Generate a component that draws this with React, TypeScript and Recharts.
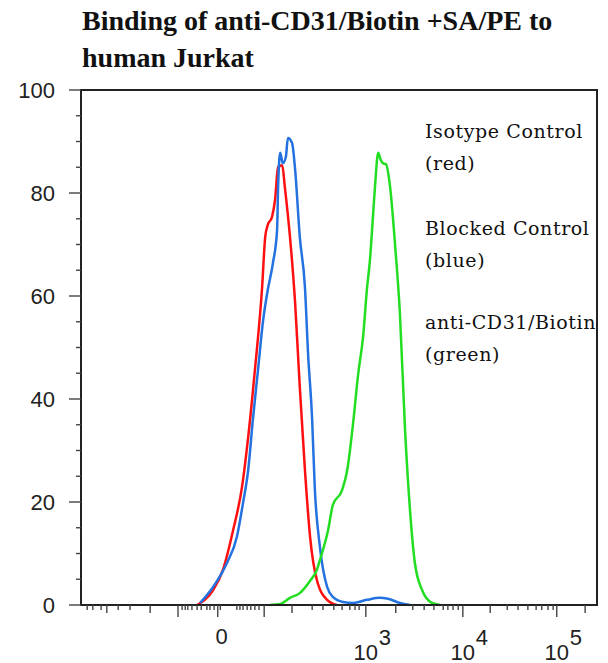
import React from 'react';
import { LineChart, Line, XAxis, YAxis, ReferenceArea } from 'recharts';

// x is the display channel of the biexponential scale (0..1000), y is % of max
const isotypeRed = [
  { ch: 225, pct: 0 }, { ch: 256, pct: 2.9 }, { ch: 275, pct: 6.8 }, { ch: 295, pct: 14.6 },
  { ch: 312, pct: 22.9 }, { ch: 324, pct: 32.6 }, { ch: 337, pct: 45.6 }, { ch: 351, pct: 61.7 },
  { ch: 357, pct: 71.5 }, { ch: 362, pct: 73.8 }, { ch: 370, pct: 75.3 }, { ch: 376, pct: 78.6 },
  { ch: 382, pct: 85.0 }, { ch: 390, pct: 85.4 }, { ch: 395, pct: 81.2 }, { ch: 405, pct: 71.5 },
  { ch: 415, pct: 58.6 }, { ch: 424, pct: 42.3 }, { ch: 434, pct: 26.2 }, { ch: 444, pct: 13.2 },
  { ch: 457, pct: 4.9 }, { ch: 477, pct: 1.0 }, { ch: 496, pct: 0 },
];

const blockedBlue = [
  { ch: 231, pct: 0.4 }, { ch: 256, pct: 3.5 }, { ch: 283, pct: 8.2 }, { ch: 302, pct: 13.2 },
  { ch: 314, pct: 19.8 }, { ch: 324, pct: 26.2 }, { ch: 333, pct: 35.9 }, { ch: 343, pct: 45.6 },
  { ch: 353, pct: 55.3 }, { ch: 362, pct: 61.2 }, { ch: 372, pct: 66.4 }, { ch: 380, pct: 72.8 },
  { ch: 382, pct: 81.2 }, { ch: 386, pct: 87.8 }, { ch: 391, pct: 85.8 }, { ch: 397, pct: 87.0 },
  { ch: 401, pct: 90.7 }, { ch: 409, pct: 89.7 }, { ch: 415, pct: 84.5 }, { ch: 424, pct: 71.5 },
  { ch: 434, pct: 61.7 }, { ch: 440, pct: 48.9 }, { ch: 448, pct: 35.9 }, { ch: 453, pct: 22.9 },
  { ch: 463, pct: 11.3 }, { ch: 477, pct: 3.5 }, { ch: 488, pct: 1.6 }, { ch: 508, pct: 0.6 },
  { ch: 527, pct: 0.4 }, { ch: 554, pct: 1.0 }, { ch: 579, pct: 1.4 }, { ch: 595, pct: 1.2 },
  { ch: 618, pct: 0.4 }, { ch: 638, pct: 0 },
];

const cd31Green = [
  { ch: 366, pct: 0 }, { ch: 386, pct: 0.2 }, { ch: 405, pct: 1.4 }, { ch: 424, pct: 2.3 },
  { ch: 444, pct: 4.7 }, { ch: 457, pct: 6.8 }, { ch: 463, pct: 8.7 }, { ch: 479, pct: 14.6 },
  { ch: 488, pct: 19.4 }, { ch: 506, pct: 22.3 }, { ch: 516, pct: 26.2 }, { ch: 527, pct: 35.0 },
  { ch: 537, pct: 44.7 }, { ch: 547, pct: 52.4 }, { ch: 554, pct: 61.2 }, { ch: 560, pct: 67.0 },
  { ch: 566, pct: 75.7 }, { ch: 570, pct: 81.6 }, { ch: 576, pct: 87.8 }, { ch: 581, pct: 86.4 },
  { ch: 585, pct: 85.8 }, { ch: 591, pct: 85.6 }, { ch: 599, pct: 81.2 }, { ch: 609, pct: 69.5 },
  { ch: 618, pct: 56.7 }, { ch: 628, pct: 34.0 }, { ch: 638, pct: 17.9 }, { ch: 647, pct: 8.2 },
  { ch: 661, pct: 2.9 }, { ch: 680, pct: 0.4 }, { ch: 696, pct: 0 },
];

const xLongTicks = [188, 265, 355, 552, 740, 922];
const xMediumTicks = [50, 134, 409, 610, 793, 977];
const xShortTicks = [
  12, 23, 39, 72, 95, 196, 202, 207, 215, 225, 233, 244, 250, 258, 270, 302, 308, 314, 322, 329,
  337, 345, 448, 469, 490, 506, 521, 531, 539, 643, 665, 684, 702, 711, 721, 731, 826, 847, 866,
  882, 893, 905, 915,
];
const xLabels = [
  { at: 265, base: '0', exp: '' },
  { at: 552, base: '10', exp: '3' },
  { at: 740, base: '10', exp: '4' },
  { at: 922, base: '10', exp: '5' },
];

const yTicks = [0, 5, 10, 15, 20, 25, 30, 35, 40, 45, 50, 55, 60, 65, 70, 75, 80, 85, 90, 95, 100];
const yMajor = [0, 20, 40, 60, 80, 100];

const legendLines = [
  ['Isotype Control', '(red)'],
  ['Blocked Control', '(blue)'],
  ['anti-CD31/Biotin', '(green)'],
];

const W = 600;
const H = 655;
const AXIS_W = 73;
const X_AXIS_H = 58;
const PLOT_LEFT = AXIS_W;
const PLOT_BOTTOM = H - X_AXIS_H;
const sans = '"Liberation Sans", Arial, sans-serif';

const allXTicks = [...xLongTicks, ...xMediumTicks, ...xShortTicks].sort((a, b) => a - b);

function XTick(props: any) {
  const { x, payload } = props;
  const v = payload.value;
  const len = xLongTicks.includes(v) ? 12 : xMediumTicks.includes(v) ? 8 : 5;
  const lab = xLabels.find((l) => l.at === v);
  return (
    <g>
      <line x1={x} x2={x} y1={PLOT_BOTTOM} y2={PLOT_BOTTOM + len} stroke="#444" strokeWidth={1.4} />
      {lab && lab.exp === '' && (
        <text x={x + 4} y={PLOT_BOTTOM + 31} textAnchor="middle" dominantBaseline="central"
          fontFamily={sans} fontSize={22} fill="#222">{lab.base}</text>
      )}
      {lab && lab.exp !== '' && (
        <g fontFamily={sans} fontSize={22} fill="#222">
          <text x={x} y={PLOT_BOTTOM + 47} textAnchor="middle" dominantBaseline="central">{lab.base}</text>
          <text x={x + 13} y={PLOT_BOTTOM + 32} textAnchor="start" dominantBaseline="central">{lab.exp}</text>
        </g>
      )}
    </g>
  );
}

function YTick(props: any) {
  const { y, payload } = props;
  const v = payload.value;
  const major = yMajor.includes(v);
  return (
    <g>
      <line x1={PLOT_LEFT - (major ? 12 : 5)} x2={PLOT_LEFT} y1={y} y2={y} stroke="#444" strokeWidth={1.4} />
      {major && (
        <text x={PLOT_LEFT - 26} y={y} textAnchor="end" dominantBaseline="central"
          fontFamily={sans} fontSize={22} fill="#222">{v}</text>
      )}
    </g>
  );
}

export default function App() {
  return (
    <div style={{ position: 'relative', width: W, height: H }}>
      <LineChart width={W} height={H} margin={{ top: 82, right: 11, bottom: 0, left: 0 }}>
        <XAxis type="number" dataKey="ch" domain={[0, 1000]} ticks={allXTicks} interval={0}
          allowDataOverflow height={X_AXIS_H} tickLine={false} tick={<XTick />}
          axisLine={{ stroke: '#222', strokeWidth: 2 }} />
        <YAxis type="number" dataKey="pct" domain={[0, 100]} ticks={yTicks} interval={0}
          width={AXIS_W} tickLine={false} tick={<YTick />}
          axisLine={{ stroke: '#222', strokeWidth: 2 }} />
        <ReferenceArea x1={0} x2={1000} y1={0} y2={100} fillOpacity={0} stroke="#222" strokeWidth={2} />
        <Line data={isotypeRed} dataKey="pct" type="monotone" stroke="#ff1010" strokeWidth={2.5}
          dot={false} isAnimationActive={false} />
        <Line data={blockedBlue} dataKey="pct" type="monotone" stroke="#2372e0" strokeWidth={2.5}
          dot={false} isAnimationActive={false} />
        <Line data={cd31Green} dataKey="pct" type="monotone" stroke="#22dd22" strokeWidth={2.5}
          dot={false} isAnimationActive={false} />
      </LineChart>
      <div style={{ position: 'absolute', left: 74, top: -6, fontFamily: '"Liberation Serif", serif',
        fontWeight: 'bold', fontSize: 28, lineHeight: '37px', color: '#111', whiteSpace: 'nowrap' }}>
        Binding of anti-CD31/Biotin +SA/PE to<br />human Jurkat
      </div>
      {legendLines.map((l, i) => (
        <div key={i} style={{ position: 'absolute', left: 417, top: [107, 204, 298][i],
          fontFamily: '"DejaVu Serif", serif', fontSize: 19, letterSpacing: 0.6, lineHeight: '32px',
          color: '#111', whiteSpace: 'nowrap' }}>
          {l[0]}<br />{l[1]}
        </div>
      ))}
    </div>
  );
}
